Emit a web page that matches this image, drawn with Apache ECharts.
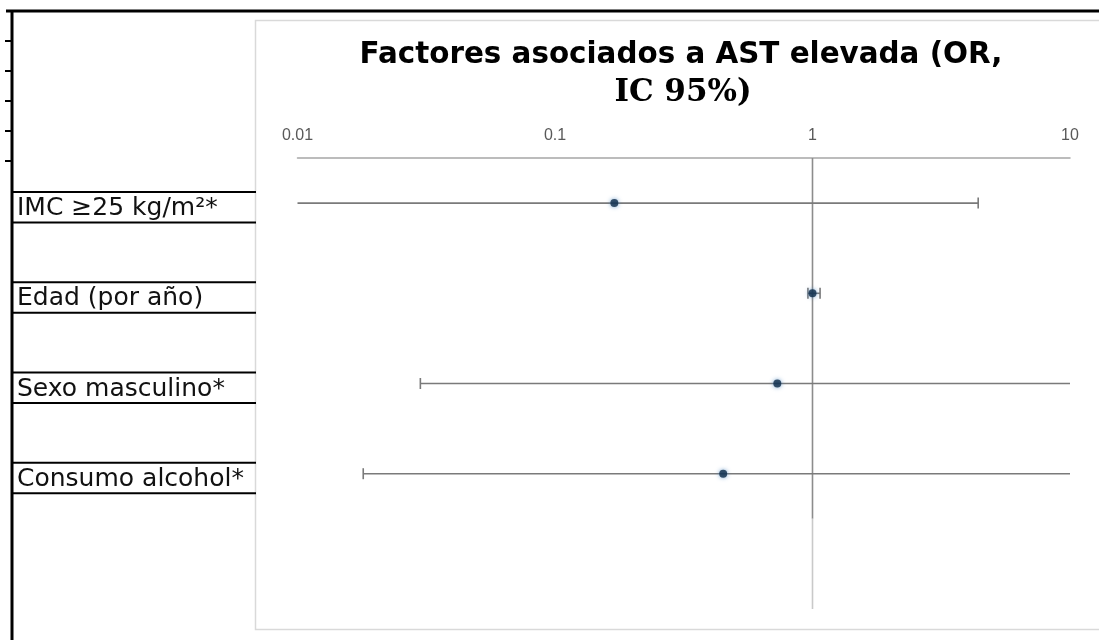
<!DOCTYPE html>
<html><head><meta charset="utf-8">
<script src="https://cdn.jsdelivr.net/npm/echarts@6/dist/echarts.min.js"></script>
<style>html,body{margin:0;padding:0;background:#fff}#c{width:1099px;height:640px}</style>
</head><body><div id="c"></div>
<script>
// ---- data ----
const categories = ['IMC ≥25 kg/m²*', 'Edad (por año)', 'Sexo masculino*', 'Consumo alcohol*'];
const orValues = [0.17, 1.0, 0.73, 0.45];
const ciLower = [0.007, 0.96, 0.030, 0.018];
const ciUpper = [4.4, 1.07, 18, 14];
const xTickLabels = ['0.01', '0.1', '1', '10'];
const titleLines = ['Factores asociados a AST elevada (OR,', 'IC 95%)'];
const refValue = 1;

// row position of each category (top row first)
const yVals = categories.map((c, i) => categories.length - i);
const X_MIN = 0.01, X_MAX = 10;

const chart = echarts.init(document.getElementById('c'), null, {renderer: 'canvas'});

const option = {
  animation: false,
  backgroundColor: '#ffffff',
  title: [
    {text: titleLines[0], left: 676, top: 36, textAlign: 'center',
     textStyle: {fontFamily: 'DejaVu Sans', fontWeight: 'bold', fontSize: 29.4, color: '#000'}},
    {text: titleLines[1], left: 678, top: 72, textAlign: 'center',
     textStyle: {fontFamily: 'DejaVu Serif', fontWeight: 'bold', fontSize: 31, color: '#000'}}
  ],
  grid: {left: 297.5, right: 29, top: 158, bottom: 31, outerBoundsMode: 'none', containLabel: false},
  xAxis: {
    type: 'log', logBase: 10, min: X_MIN, max: X_MAX, position: 'top',
    axisLine: {show: true, onZero: false, lineStyle: {color: '#a6a6a6', width: 1.5}},
    axisTick: {show: false},
    splitLine: {show: false},
    axisLabel: {
      color: '#595959', fontSize: 16, fontFamily: 'Liberation Sans, Arial', margin: 14,
      showMinLabel: true, showMaxLabel: true,
      formatter: (v, idx) => xTickLabels[idx] !== undefined ? xTickLabels[idx] : ''
    }
  },
  yAxis: {type: 'value', min: -0.5, max: 4.5, show: false},
  series: [
    {
      type: 'line', silent: true, symbol: 'none', z: 1,
      data: [[refValue, 4.5], [refValue, 0.5]],
      lineStyle: {color: '#8c8c8c', width: 1.6}
    },
    {
      type: 'line', silent: true, symbol: 'none', z: 1,
      data: [[refValue, 0.5], [refValue, -0.5]],
      lineStyle: {color: '#c9c9c9', width: 1.6}
    },
    {
      type: 'custom', z: 2, silent: true,
      encode: {x: [1, 2], y: 0},
      data: categories.map((c, i) => [yVals[i], ciLower[i], ciUpper[i]]),
      renderItem: function (params, api) {
        const y = api.value(0), lo = api.value(1), hi = api.value(2);
        const p1 = api.coord([Math.max(lo, X_MIN), y]);
        const p2 = api.coord([Math.min(hi, X_MAX), y]);
        const st = {stroke: '#7a7a7a', lineWidth: 1.6};
        const ch = [{type: 'line', shape: {x1: p1[0], y1: p1[1], x2: p2[0], y2: p2[1]}, style: st}];
        const cap = 5.5;
        if (lo >= X_MIN) ch.push({type: 'line', shape: {x1: p1[0], y1: p1[1] - cap, x2: p1[0], y2: p1[1] + cap}, style: st});
        if (hi <= X_MAX) ch.push({type: 'line', shape: {x1: p2[0], y1: p2[1] - cap, x2: p2[0], y2: p2[1] + cap}, style: st});
        return {type: 'group', children: ch};
      }
    },
    {
      type: 'scatter', z: 3, symbol: 'circle', symbolSize: 8,
      data: categories.map((c, i) => [orValues[i], yVals[i]]),
      itemStyle: {color: '#0e2a47', shadowColor: 'rgba(70,130,190,0.9)', shadowBlur: 4}
    }
  ]
};
chart.setOption(option);

// spreadsheet-like frame and label cells
const graphics = [
  {type: 'rect', z: 0, shape: {x: 255.5, y: 20.5, width: 900, height: 609}, style: {fill: 'none', stroke: '#d9d9d9', lineWidth: 1.5}},
  {type: 'line', z: 10, shape: {x1: 6, y1: 11, x2: 1099, y2: 11}, style: {stroke: '#000', lineWidth: 3}},
  {type: 'line', z: 10, shape: {x1: 12, y1: 10, x2: 12, y2: 640}, style: {stroke: '#000', lineWidth: 3}}
];
[41, 71, 101, 131, 161].forEach(yy => graphics.push(
  {type: 'line', z: 10, shape: {x1: 5, y1: yy, x2: 11, y2: yy}, style: {stroke: '#000', lineWidth: 2}}));
categories.forEach((c, i) => {
  const py = chart.convertToPixel({yAxisIndex: 0}, yVals[i]);
  graphics.push({type: 'line', z: 10, shape: {x1: 12, y1: py - 11, x2: 256, y2: py - 11}, style: {stroke: '#000', lineWidth: 2}});
  graphics.push({type: 'line', z: 10, shape: {x1: 12, y1: py + 19.5, x2: 256, y2: py + 19.5}, style: {stroke: '#000', lineWidth: 2}});
  graphics.push({type: 'text', z: 10, x: 17, y: py + 5.5, style: {
    text: c, font: '25px "DejaVu Sans"', fill: '#111', textAlign: 'left', textVerticalAlign: 'middle'}});
});
chart.setOption({graphic: graphics});
</script>
</body></html>
